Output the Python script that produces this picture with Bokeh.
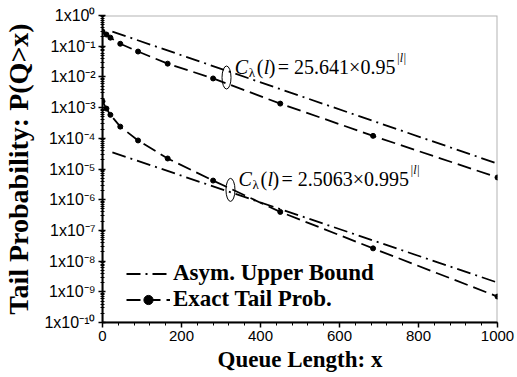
from bokeh.plotting import figure
from bokeh.models import (Label, Legend, LegendItem, FixedTicker, BoxAnnotation,
                          SingleIntervalTicker, CustomJSTickFormatter, Range1d)
from bokeh.embed import file_html
from bokeh.resources import INLINE

# Queue lengths where the exact tail probability was evaluated
queue_x = [0, 10, 20, 45, 90, 165, 280, 450, 685, 1000]
# Exact tail probability P(Q>x), high-load and low-load cases
exact_high = [0.30, 0.24, 0.19, 0.12, 0.067, 0.027, 0.0089, 1.35e-3, 1.2e-4, 5.3e-6]
exact_low = [1.6e-3, 9.3e-4, 5.8e-4, 2.4e-4, 8.5e-5, 2.2e-5, 4.2e-6, 4.0e-7, 2.6e-8, 7.0e-10]
# Asymptotic upper bounds (straight lines on the log scale)
bound_x = [25, 1000]
bound_high = [0.30, 1.5e-5]
bound_low = [3.5e-5, 2.0e-9]
# Axis ticks
decades = list(range(0, -11, -1))

SERIF = "Liberation Serif"
SANS = "Liberation Sans"

# approximate advance widths (em) for the roman serif face
W_ROMAN = {**{d: 0.5 for d in "0123456789"}, ".": 0.25, " ": 0.25, "=": 0.564,
           "×": 0.564, "(": 0.333, ")": 0.333}


def text_width(s, table, size):
    return sum(table.get(c, 0.5) for c in s) * size


p = figure(width=517, height=377, y_axis_type="log",
           x_range=Range1d(0, 1000), y_range=Range1d(1e-10, 1),
           output_backend="svg", toolbar_location=None,
           min_border_left=101, min_border_right=20,
           min_border_top=15, min_border_bottom=55)
p.xgrid.visible = False
p.ygrid.visible = False
p.outline_line_color = None
p.background_fill_color = "white"
p.border_fill_color = "white"

# x axis
p.xaxis.ticker = SingleIntervalTicker(interval=200, num_minor_ticks=5)
p.xaxis.axis_line_width = 2
p.xaxis.major_tick_out = 5
p.xaxis.major_tick_in = 0
p.xaxis.minor_tick_out = 3
p.xaxis.minor_tick_in = 0
p.xaxis.major_tick_line_width = 1.5
p.xaxis.major_label_text_font = SANS
p.xaxis.major_label_text_font_size = "15px"
p.xaxis.major_label_text_color = "black"
p.xaxis.major_label_standoff = 3
p.xaxis.axis_label = "Queue Length: x"
p.xaxis.axis_label_text_font = SERIF
p.xaxis.axis_label_text_font_style = "bold"
p.xaxis.axis_label_text_font_size = "23px"
p.xaxis.axis_label_text_color = "black"
p.xaxis.axis_label_standoff = 3

# y axis (log decades) with superscript exponents
minor = [m * 10.0 ** e for e in range(-10, 0) for m in range(2, 10)]
p.yaxis.ticker = FixedTicker(ticks=[10.0 ** e for e in decades], minor_ticks=minor)
p.yaxis.formatter = CustomJSTickFormatter(code="""
    const sup = {"0": "\u2070", "1": "\u00b9", "2": "\u00b2", "3": "\u00b3",
                 "4": "\u2074", "5": "\u2075", "6": "\u2076", "7": "\u2077",
                 "8": "\u2078", "9": "\u2079", "-": "\u207b"};
    const e = Math.round(Math.log10(tick));
    return "1x10" + String(e).split("").map((c) => sup[c]).join("");
""")
p.yaxis.axis_line_width = 2
p.yaxis.major_tick_out = 4
p.yaxis.major_tick_in = 3
p.yaxis.minor_tick_out = 2
p.yaxis.minor_tick_in = 2
p.yaxis.major_tick_line_width = 1.5
p.yaxis.major_label_text_font = SANS
p.yaxis.major_label_text_font_size = "16px"
p.yaxis.major_label_text_color = "black"
p.yaxis.major_label_standoff = 3
p.yaxis.axis_label = "Tail Probability: P(Q>x)"
p.yaxis.axis_label_text_font = SERIF
p.yaxis.axis_label_text_font_style = "bold"
p.yaxis.axis_label_text_font_size = "28px"
p.yaxis.axis_label_text_color = "black"
p.yaxis.axis_label_standoff = 7

# frame border
p.add_layout(BoxAnnotation(fill_alpha=0, line_color="black", line_width=2))

# curves
r_bh = p.line(bound_x, bound_high, line_color="black", line_width=1.8, line_dash="14 5 2 5")
p.line(bound_x, bound_low, line_color="black", line_width=1.8, line_dash="14 5 2 5")
r_eh = p.line(queue_x, exact_high, line_color="black", line_width=1.8, line_dash="14 6")
r_ehm = p.scatter(queue_x, exact_high, marker="circle", size=5, color="black")
p.line(queue_x, exact_low, line_color="black", line_width=1.8, line_dash="14 6")
p.scatter(queue_x, exact_low, marker="circle", size=5, color="black")

# ellipses grouping each pair of curves
p.ellipse(x=[314, 324], y=[10 ** -2.02, 10 ** -5.68], width=9, height=23,
          width_units="screen", height_units="screen",
          fill_color=None, line_color="black", line_width=1)


def formula(x, y, coef_text):
    size = 20
    pieces = [("C", 0, 0, size, "italic"),
              ("λ", 14, -5, 13, "normal"),
              ("(", 22, 0, size, "normal"),
              ("l", 29, 0, size, "italic"),
              (")", 34, 0, size, "normal"),
              ("= " + coef_text, 43, 0, size, "normal")]
    sup_dx = 43 + text_width("= " + coef_text, W_ROMAN, size) + 1
    pieces.append(("|l|", sup_dx, 9, 12, "italic"))
    for txt, dx, dy, fs, style in pieces:
        p.add_layout(Label(x=x, y=y, text=txt, x_offset=dx, y_offset=dy,
                           text_align="left", text_baseline="alphabetic",
                           text_font=SERIF, text_font_size=f"{fs}px",
                           text_font_style=style, text_color="black"))


formula(335, 10 ** -1.69, "25.641×0.95")
formula(344, 10 ** -5.34, "2.5063×0.995")

legend = Legend(items=[LegendItem(label="Asym. Upper Bound", renderers=[r_bh]),
                       LegendItem(label="Exact Tail Prob.", renderers=[r_eh, r_ehm])],
                location=(24, 10), padding=0, margin=0, spacing=0,
                glyph_width=44, glyph_height=23, label_standoff=3,
                label_text_font=SERIF, label_text_font_style="bold",
                label_text_font_size="23px", label_text_color="black",
                border_line_color=None, background_fill_alpha=0)
p.add_layout(legend)

open("out.html", "w").write(file_html(p, INLINE))
